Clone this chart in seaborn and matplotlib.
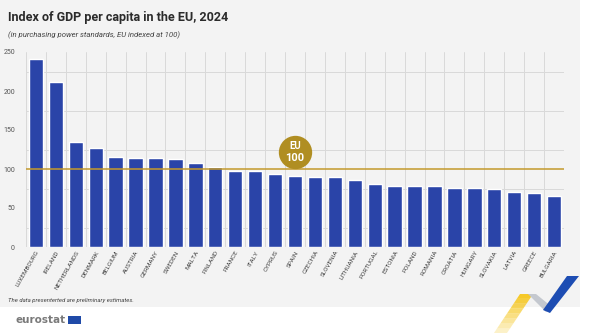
import numpy as np
import pandas as pd
import matplotlib
matplotlib.use("Agg")
import matplotlib.pyplot as plt
from matplotlib.patches import Rectangle, Polygon
import seaborn as sns

countries = ["LUXEMBOURG", "IRELAND", "NETHERLANDS", "DENMARK", "BELGIUM", "AUSTRIA",
             "GERMANY", "SWEDEN", "MALTA", "FINLAND", "FRANCE", "ITALY", "CYPRUS",
             "SPAIN", "CZECHIA", "SLOVENIA", "LITHUANIA", "PORTUGAL", "ESTONIA",
             "POLAND", "ROMANIA", "CROATIA", "HUNGARY", "SLOVAKIA", "LATVIA",
             "GREECE", "BULGARIA"]
gdp_index = [241, 211, 134, 127, 116, 114, 114, 113, 108, 103, 98, 97, 94,
             91, 90, 90, 86, 81, 78, 78, 78, 76, 76, 74, 70, 69, 65]
eu_level = 100
y_ticks = [0, 50, 100, 150, 200, 250]

title = "Index of GDP per capita in the EU, 2024"
subtitle = "(in purchasing power standards, EU indexed at 100)"
footnote = "The data presenterted are preliminary estimates."

sns.set_theme(style="white")
plt.rcParams["font.family"] = ["Roboto", "DejaVu Sans"]

W, H = 600, 334
fig = plt.figure(figsize=(W / 100, H / 100), dpi=100, facecolor="white")

def px(x, y):
    return (x / W, 1 - y / H)

# grey panel behind the chart
fig.patches.append(Rectangle((0, 1 - 307 / H), 580 / W, 307 / H,
                             transform=fig.transFigure, facecolor="#f3f3f3",
                             edgecolor="none", zorder=-5))

ax = fig.add_axes([26 / W, 1 - 247 / H, (564 - 26) / W, (247 - 52) / H])
ax.set_facecolor("none")

df = pd.DataFrame({"country": countries, "value": gdp_index})
sns.barplot(data=df, x="country", y="value", color="#2a44a8", width=0.72,
            saturation=1, ax=ax, zorder=3)

ax.set_xlim(-0.5, len(countries) - 0.5)
ax.set_ylim(0, 250)
ax.set_yticks(y_ticks)
ax.set_yticks(np.arange(0, 251, 25), minor=True)
ax.set_xticks(np.arange(-0.5, len(countries), 1), minor=True)
ax.grid(True, which="minor", color="#d9d9d9", linewidth=0.7, zorder=0)
ax.grid(False, which="major")
for s in ax.spines.values():
    s.set_visible(False)
ax.set_xlabel("")
ax.set_ylabel("")
ax.tick_params(axis="both", which="both", length=0)
ax.tick_params(axis="y", labelsize=5, labelcolor="#555555", pad=8)
ax.tick_params(axis="x", labelsize=4.6, labelcolor="#444444", pad=2)
plt.setp(ax.get_xticklabels(), rotation=60, ha="right", rotation_mode="anchor")

# EU average line and badge
ax.axhline(eu_level, color="#c49a2c", linewidth=1.1, zorder=4)
badge_x = countries.index("SPAIN")
ax.plot([badge_x], [106], marker="v", markersize=7, color="#b08e22", zorder=5,
        markeredgewidth=0)
ax.plot([badge_x], [122], marker="o", markersize=24, color="#b08e22", zorder=6,
        markeredgewidth=0)
ax.text(badge_x, 130, "EU", color="white", fontsize=7, fontweight="bold",
        ha="center", va="center", zorder=7)
ax.text(badge_x, 114, str(eu_level), color="white", fontsize=8, fontweight="bold",
        ha="center", va="center", zorder=7)

# titles and notes
fig.text(*px(8, 21), title, fontsize=9, fontweight="bold", color="#2b2b2b",
         va="baseline", ha="left")
fig.text(*px(8, 37), subtitle, fontsize=5.6, style="italic", color="#444444",
         va="baseline", ha="left")
fig.text(*px(8, 302), footnote, fontsize=4.3, style="italic", color="#444444",
         va="baseline", ha="left")

# eurostat logo
fig.text(*px(16, 323), "eurostat", fontsize=7.5, fontweight="bold", color="#7a7a7a",
         family=["DejaVu Sans"], va="baseline", ha="left")
fig.patches.append(Rectangle(px(68, 324), 13 / W, 8 / H, transform=fig.transFigure,
                             facecolor="#1f4aa8", edgecolor="none", zorder=3))

# ribbon decoration in the corner
def poly(points, color, alpha=1.0):
    fig.patches.append(Polygon([px(x, y) for x, y in points], closed=True,
                               transform=fig.transFigure, facecolor=color,
                               edgecolor="none", alpha=alpha, zorder=3))

# yellow stroke fading out towards the bottom
top_l, top_r = np.array([520.0, 294.0]), np.array([533.0, 294.0])
bot_l, bot_r = np.array([494.0, 333.0]), np.array([507.0, 333.0])
steps = 8
for i in range(steps):
    t0, t1 = i / steps, (i + 1) / steps
    pts = [top_l + (bot_l - top_l) * t0, top_r + (bot_r - top_r) * t0,
           top_r + (bot_r - top_r) * t1, top_l + (bot_l - top_l) * t1]
    poly([tuple(p) for p in pts], "#f6c928", alpha=1.0 - 0.85 * t0)
poly([(528, 294), (536, 294), (552, 307), (546, 312)], "#c4c8cf")
poly([(543, 310), (550, 313), (579, 276), (567, 276)], "#1d4db3")

fig.savefig("out.png", dpi=100, facecolor="white")
